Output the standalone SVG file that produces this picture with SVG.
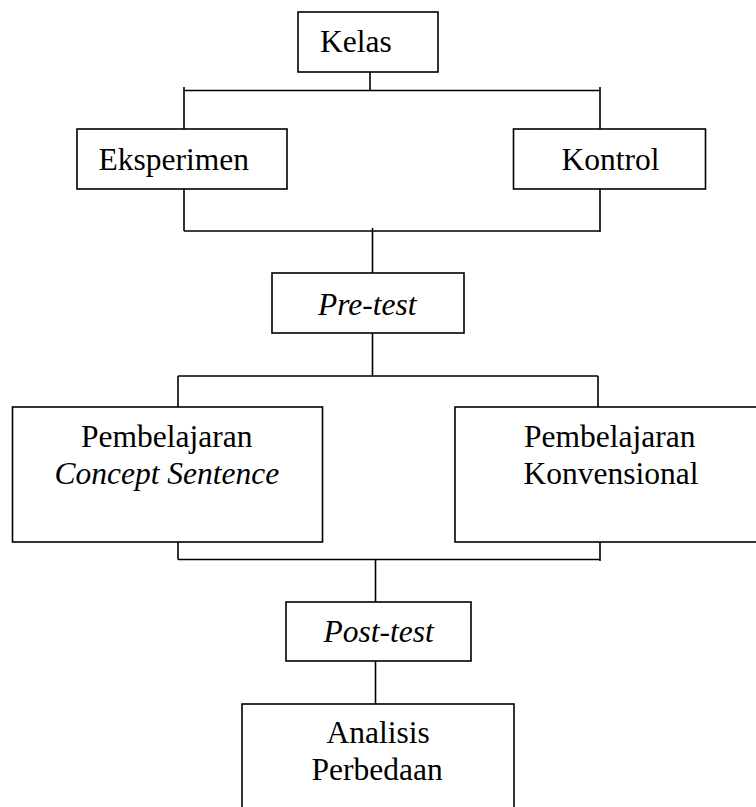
<svg xmlns="http://www.w3.org/2000/svg" width="756" height="807" viewBox="0 0 756 807">
<style>
.box{fill:#fff;stroke:#000;stroke-width:1.6}
.ln{fill:none;stroke:#000;stroke-width:1.6}
</style>
<rect width="756" height="807" fill="#fff"/>
<g id="connectors">
<path class="ln" d="M370,72V90.5M184,90.5H600M184,87V129M600,87V129"/>
<path class="ln" d="M184,189V231M600,189V232M184,231H600M372.5,228V273M372.5,333V376"/>
<path class="ln" d="M178,376H598M178,376V407M598,376V407"/>
<path class="ln" d="M178,542V559.5M600,542V561M178,559.5H600M375.5,559.5V602M375.5,661V704"/>
</g>
<g id="kelas"><rect class="box" x="298" y="12" width="140" height="60"/><text x="320" y="52" font-family="Liberation Serif" font-size="31.5">Kelas</text></g>
<g id="eksperimen"><rect class="box" x="77" y="129" width="210" height="60"/><text x="98.5" y="170" font-family="Liberation Serif" font-size="31.5">Eksperimen</text></g>
<g id="kontrol"><rect class="box" x="513.5" y="129" width="192" height="60"/><text x="561.5" y="170" font-family="Liberation Serif" font-size="31.5">Kontrol</text></g>
<g id="pretest"><rect class="box" x="272" y="273" width="192" height="60"/><text x="318" y="315" font-family="Liberation Serif" font-size="31.5" font-style="italic">Pre-test</text></g>
<g id="concept"><rect class="box" x="12.5" y="407" width="310" height="135"/><text x="81" y="447" font-family="Liberation Serif" font-size="31.5">Pembelajaran</text><text x="54.5" y="484" font-family="Liberation Serif" font-size="31.5" font-style="italic">Concept Sentence</text></g>
<g id="konvensional"><rect class="box" x="455" y="407" width="320" height="135"/><text x="524" y="447" font-family="Liberation Serif" font-size="31.5">Pembelajaran</text><text x="523.5" y="484" font-family="Liberation Serif" font-size="31.5">Konvensional</text></g>
<g id="posttest"><rect class="box" x="286" y="602" width="185" height="59"/><text x="323.5" y="641.5" font-family="Liberation Serif" font-size="31.5" font-style="italic">Post-test</text></g>
<g id="analisis"><rect class="box" x="242" y="704" width="272" height="120"/><text x="326.5" y="743" font-family="Liberation Serif" font-size="31.5">Analisis</text><text x="311.5" y="780" font-family="Liberation Serif" font-size="31.5">Perbedaan</text></g>
</svg>
